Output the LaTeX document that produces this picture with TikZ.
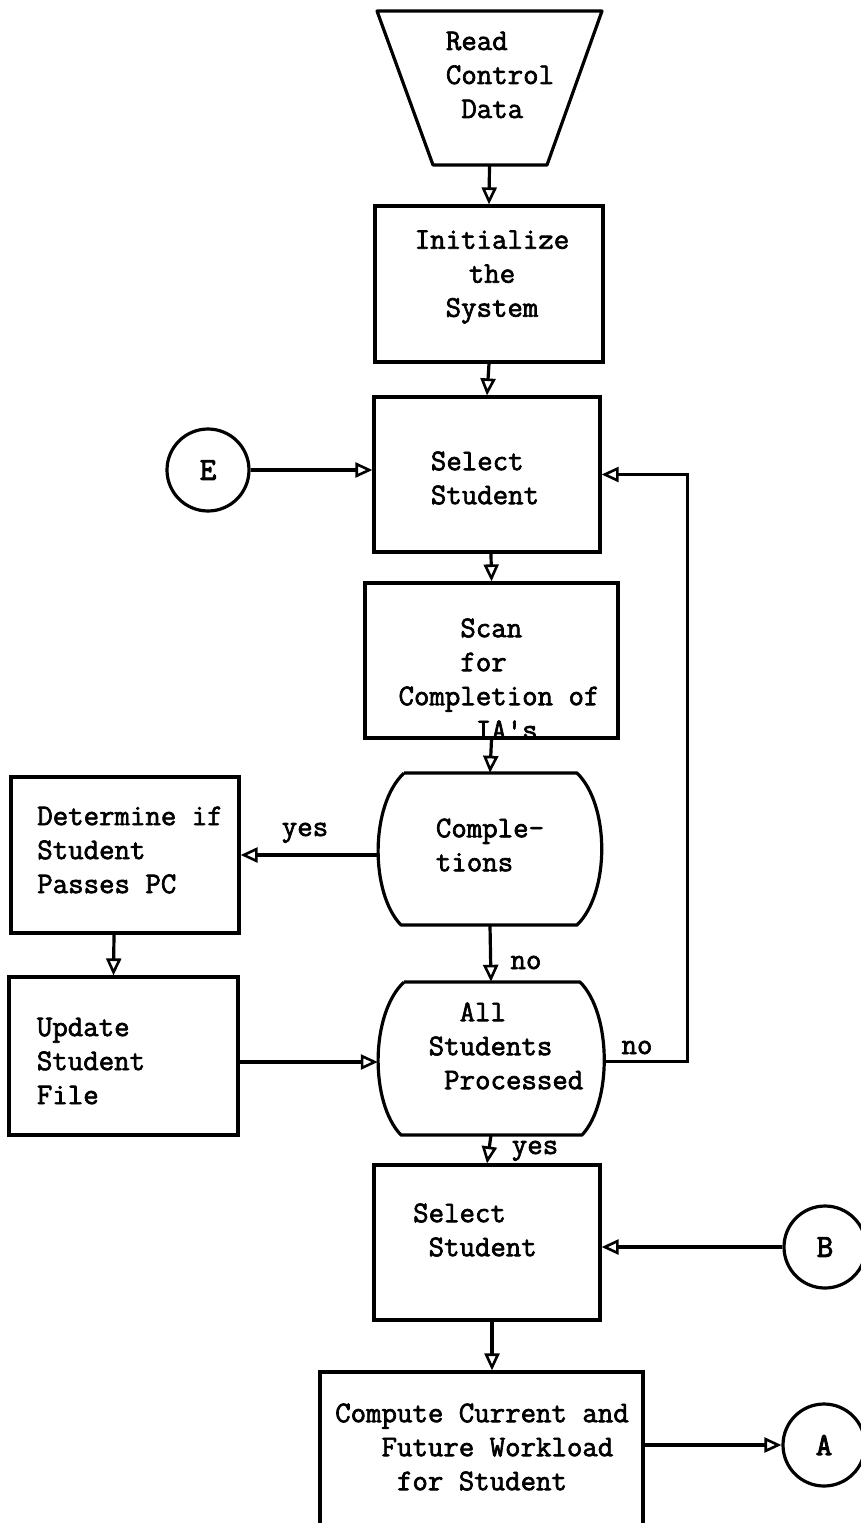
\documentclass[tikz,border=0pt]{standalone}
\usepackage{fontspec}
\usetikzlibrary{arrows.meta,calc}
\newfontfamily\typer{Latin Modern Mono}[FakeBold=2.2]
\newfontfamily\typerheavy{Latin Modern Mono}[FakeBold=3]
\begin{document}
\begin{tikzpicture}[x=1pt,y=-1pt,
  every node/.style={inner sep=0pt},
  stroke/.style={line width=3.2pt, line join=round},
  stepbox/.style={draw, rectangle, line width=3.2pt},
  hidden/.style={draw=none, rectangle},
  words/.style={font=\typer\fontsize{30}{34}\selectfont, align=left},
  cwords/.style={font=\typer\fontsize{30}{34}\selectfont, align=center},
  tag/.style={font=\typer\fontsize{30}{34}\selectfont, anchor=base},
  joint/.style={draw, circle, line width=3.2pt, minimum size=82pt,
    font=\typerheavy\fontsize{32}{34}\selectfont},
  flow/.style={line width=3.2pt, -{Triangle[open,length=17pt,width=15pt,line width=2.6pt]}}
]
\useasboundingbox (0,0) rectangle (861,1523);
\clip (0,0) rectangle (861,1523);

% input: read control data
\node[hidden, minimum width=225pt, minimum height=154pt] (read) at (489.5,88) {};
\draw[stroke] (377,11) -- (602,11) -- (547,165) -- (433,165) -- cycle;
\node[words] (readT) at (500,75) {Read\\Control\\\phantom{0}Data};

% initialisation
\node[stepbox, minimum width=228pt, minimum height=156pt] (init) at (489,284) {};
\node[cwords] (initT) at (492,277) {Initialize\\the\\System};

% first student loop
\node[stepbox, minimum width=226pt, minimum height=155pt] (sel1) at (487,474.5) {};
\node[words] (sel1T) at (485,478) {Select\\Student};
\node[joint] (E) at (208,470) {E};

\node[stepbox, minimum width=253pt, minimum height=155pt] (scan) at (491.5,660.5) {};
\node[words] (scanT) at (499,679) {\phantom{0000}Scan\\\phantom{0000}for\\Completion of\\\phantom{00000}IA's};

% decision: completions
\node[hidden, minimum width=224pt, minimum height=152pt] (comp) at (490,849) {};
\draw[stroke] (404,773) -- (577,773) .. controls (610,805) and (610,893) .. (577,925)
  -- (401,925) .. controls (370,893) and (370,805) .. (404,773);
\node[words] (compT) at (490,845) {Comple-\\tions};

\node[stepbox, minimum width=228pt, minimum height=156pt] (det) at (125,855) {};
\node[words] (detT) at (130,850) {Determine if\\Student\\Passes PC};

\node[stepbox, minimum width=229pt, minimum height=158pt] (upd) at (123.5,1056) {};
\node[words] (updT) at (91,1061) {Update\\Student\\File};

% decision: all students processed
\node[hidden, minimum width=226pt, minimum height=153pt] (all) at (491,1058.5) {};
\draw[stroke] (404,982) -- (580,982) .. controls (612,1014) and (612,1103) .. (582,1135)
  -- (401,1135) .. controls (370,1103) and (370,1014) .. (404,982);
\node[words] (allT) at (506,1046) {\phantom{00}All\\Students\\\phantom{0}Processed};

% second student loop
\node[stepbox, minimum width=226pt, minimum height=155pt] (sel2) at (487,1242.5) {};
\node[words] (sel2T) at (475,1230) {Select\\\phantom{0}Student};
\node[joint] (B) at (825,1247) {B};

\node[stepbox, minimum width=323pt, minimum height=170pt] (cmp) at (481.5,1457) {};
\node[words] (cmpT) at (482,1447) {Compute Current and\\\phantom{000}Future Workload\\\phantom{0000}for Student};
\node[joint] (A) at (824,1445) {A};

% connectors
\draw[flow] (read.south) -- (init.north);
\draw[flow] (init.south) -- (sel1.north);
\draw[flow] (E.east) -- (E.east -| sel1.west);
\draw[flow] ($(sel1.south)+(4,0)$) -- ($(scan.north)+(0,0)$);
\draw[flow] (scan.south) -- (comp.north);
\draw[flow] (comp.west |- det.east) -- (det.east);
\node[tag] (yes1) at (305,836) {yes};
\draw[flow] ($(det.south)+(-11,0)$) -- ($(upd.north)+(-10,0)$);
\draw[flow] ($(upd.east)+(0,6)$) -- ($(upd.east -| all.west)+(0,6)$);
\draw[flow] (comp.south) -- (all.north);
\node[tag] (no1) at (526,969) {no};
\draw[flow] ($(all.east)+(0,3)$) -- ++(83,0) |- (sel1.east);
\node[tag] (no2) at (637,1054) {no};
\draw[flow] (all.south) -- (sel2.north);
\node[tag] (yes2) at (535,1154) {yes};
\draw[flow] (B.west) -- (B.west -| sel2.east);
\draw[flow] ($(sel2.south)+(5,0)$) -- ($(cmp.north)+(10.5,0)$);
\draw[flow] (A.west -| cmp.east) -- (A.west);
\end{tikzpicture}
\end{document}
